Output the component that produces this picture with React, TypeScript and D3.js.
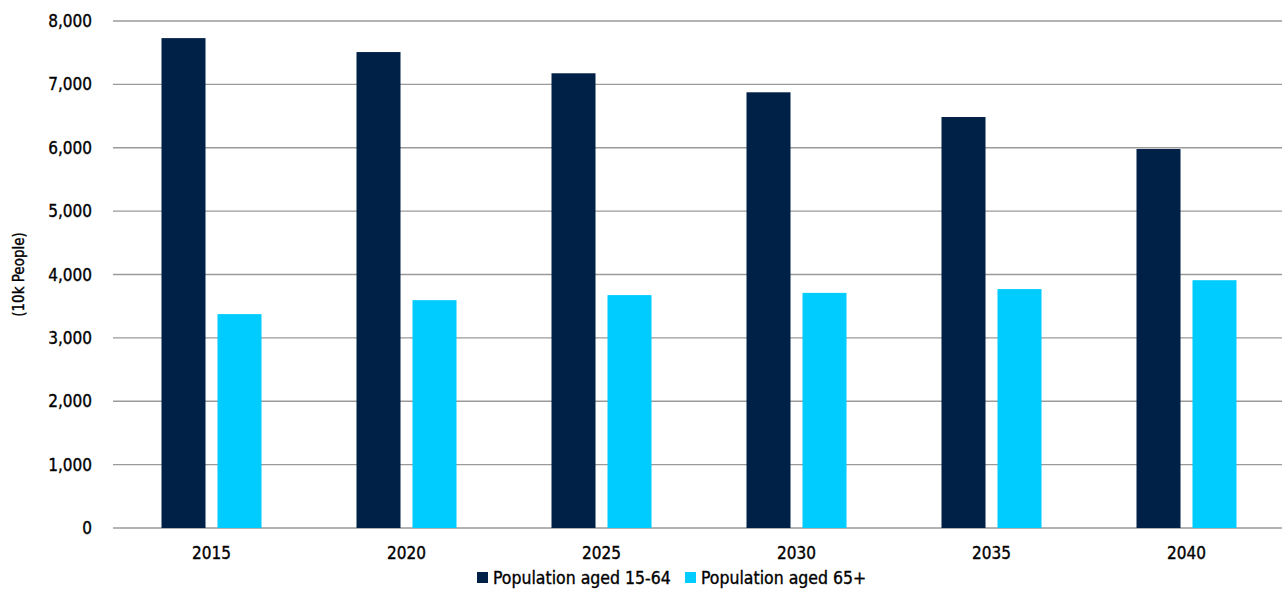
import * as d3 from 'd3';

const YEARS = ['2015', '2020', '2025', '2030', '2035', '2040'];
const AGED_15_64 = [7730, 7510, 7175, 6875, 6485, 5980];
const AGED_65_PLUS = [3375, 3595, 3675, 3710, 3770, 3910];
const Y_TICKS = [0, 1000, 2000, 3000, 4000, 5000, 6000, 7000, 8000];
const SERIES = [
  { label: 'Population aged 15-64', color: '#002147', values: AGED_15_64 },
  { label: 'Population aged 65+', color: '#00CCFF', values: AGED_65_PLUS },
];

const W = 1282;
const H = 598;
const M = { top: 21, right: -2, bottom: 70, left: 114 };
const FONT = '"Liberation Sans Narrow", "DejaVu Sans Condensed", "Roboto", sans-serif';
const TEXT_STYLE = { fill: '#000', stroke: '#000', strokeWidth: 0.35 };

export default function App() {
  const x = d3.scaleBand<string>().domain(YEARS).range([M.left, W - M.right]);
  const y = d3.scaleLinear().domain([0, 8000]).range([H - M.bottom, M.top]);
  const fmt = d3.format(',');
  const barW = 44;
  const gap = 12;

  return (
    <svg
      width={W}
      height={H}
      style={{ position: 'absolute', left: 0, top: 0, background: '#fff' }}
      fontFamily={FONT}
    >
      {Y_TICKS.map((t) => (
        <g key={t}>
          <line x1={M.left - 1} x2={W} y1={y(t)} y2={y(t)} stroke="#9a9a9a" strokeWidth={1.3} />
          <text x={92} y={y(t)} dy="0.36em" textAnchor="end" fontSize={17} style={TEXT_STYLE}>
            {fmt(t)}
          </text>
        </g>
      ))}
      <text
        transform={`translate(24, ${y(4000)}) rotate(-90)`}
        textAnchor="middle"
        fontSize={15}
        style={TEXT_STYLE}
      >
        (10k People)
      </text>
      {YEARS.map((yr, i) => {
        const cx = (x(yr) ?? 0) + x.bandwidth() / 2;
        return (
          <g key={yr}>
            {SERIES.map((s, j) => {
              const bx = cx - (barW + gap / 2) + j * (barW + gap);
              return (
                <rect
                  key={s.label}
                  x={bx}
                  width={barW}
                  y={y(s.values[i])}
                  height={y(0) - y(s.values[i])}
                  fill={s.color}
                />
              );
            })}
            <text x={cx} y={559} textAnchor="middle" fontSize={17} style={TEXT_STYLE}>
              {yr}
            </text>
          </g>
        );
      })}
      {SERIES.map((s, j) => {
        const lx = j === 0 ? 477 : 685;
        return (
          <g key={s.label} transform={`translate(${lx}, 578)`}>
            <rect x={0} y={-6} width={11} height={11} fill={s.color} />
            <text x={16} y={0} dy="0.36em" fontSize={17.5} style={TEXT_STYLE}>
              {s.label}
            </text>
          </g>
        );
      })}
    </svg>
  );
}
